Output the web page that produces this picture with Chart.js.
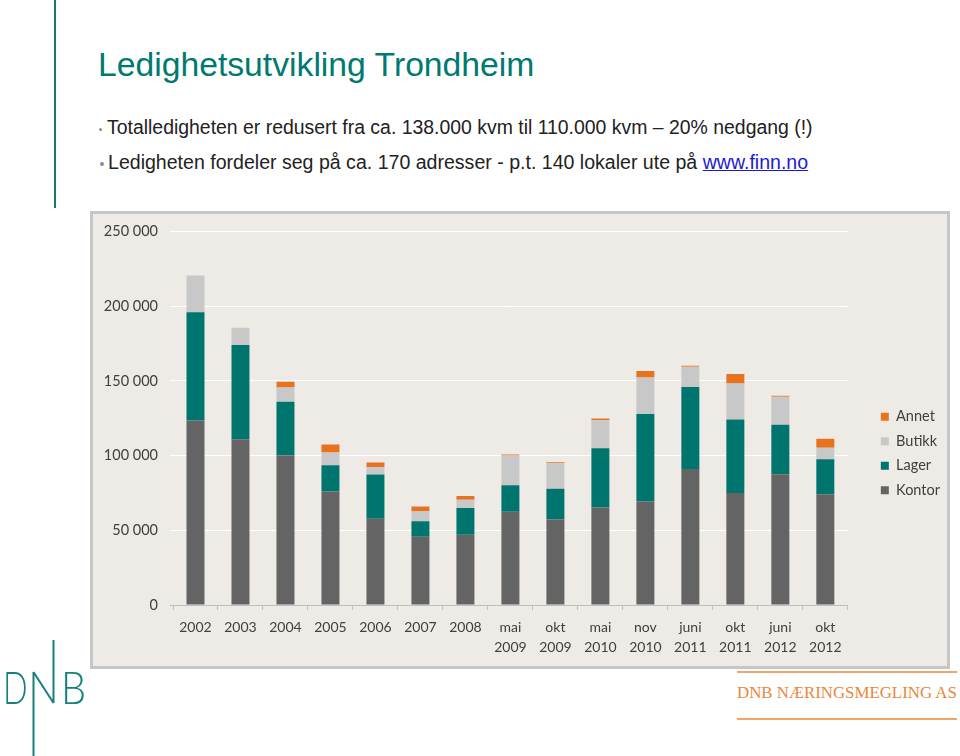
<!DOCTYPE html>
<html>
<head>
<meta charset="utf-8">
<script src="https://cdn.jsdelivr.net/npm/chart.js@4.4.1/dist/chart.umd.min.js"></script>
<style>
  html, body { margin: 0; padding: 0; background: #fff; }
  body { width: 960px; height: 756px; position: relative; overflow: hidden;
         font-family: "Liberation Sans", Arial, sans-serif; }
  .fit { position: absolute; white-space: nowrap; line-height: 1; transform-origin: 0 0; }
  .rule { position: absolute; left: 54px; top: 0; width: 2px; height: 208px; background: #137a73; }
  .title { left: 98px; top: 47px; font-size: 34px; color: #007a70; }
  .bullet { left: 107px; font-size: 19.5px; color: #222; }
  .dot { position: absolute; border-radius: 50%; background: #8c8c8c; }
  .bullet a { color: #1a1ad8; text-decoration: underline; }
  #box { position: absolute; left: 90px; top: 211px; width: 860px; height: 458px;
         box-sizing: border-box; border: 3px solid #c6c6c6; background: #eeebe7; }
  #box canvas { position: absolute; left: 0; top: 0; }
  .logo { position: absolute; left: 0; top: 640px; width: 100px; height: 116px; }
  .logo span { position: absolute; top: 25px; font-family: Lato, "Open Sans", sans-serif;
               font-weight: 300; font-size: 45px; line-height: 1; color: #17807a; transform-origin: 0 0; }
  .oline { position: absolute; left: 737px; width: 220px; height: 2px; background: #f0a56a; }
  .firm { left: 737px; top: 685px; font-family: "Liberation Serif", serif; font-size: 16px; color: #e8873a; }
</style>
</head>
<body>
<div class="rule"></div>
<div class="fit title" data-w="436">Ledighetsutvikling Trondheim</div>
<div class="dot" style="left:99px;top:128px;width:3px;height:3px"></div>
<div class="fit bullet" style="top:118px" data-w="706">Totalledigheten er redusert fra ca. 138.000 kvm til 110.000 kvm – 20% nedgang (!)</div>
<div class="dot" style="left:100px;top:162px;width:4px;height:4px"></div>
<div class="fit bullet" style="top:153px;left:108px" data-w="700">Ledigheten fordeler seg på ca. 170 adresser - p.t. 140 lokaler ute på <a>www.finn.no</a></div>

<div id="box"><canvas id="chart" width="854" height="452"></canvas></div>

<div class="logo">
  <span style="left:3px;transform:scaleX(0.72)">D</span>
  <svg width="100" height="116" style="position:absolute;left:0;top:0">
    <path d="M33.5 32 V116 M33.5 32 L53.5 63 M53.5 0 V63" stroke="#17807a" stroke-width="2" fill="none"/>
  </svg>
  <span style="left:61px;transform:scaleX(0.88)">B</span>
</div>

<div class="oline" style="top:671px"></div>
<div class="fit firm" data-w="220">DNB NÆRINGSMEGLING AS</div>
<div class="oline" style="top:718px"></div>

<script>
// squeeze the slide texts to the widths they have in the original
document.querySelectorAll('.fit[data-w]').forEach(el => {
  const s = +el.dataset.w / el.scrollWidth;
  el.style.transform = 'scaleX(' + s + ')';
});

const labels = [
  '2002', '2003', '2004', '2005', '2006', '2007', '2008',
  ['mai', '2009'], ['okt', '2009'], ['mai', '2010'], ['nov', '2010'],
  ['juni', '2011'], ['okt', '2011'], ['juni', '2012'], ['okt', '2012']
];
const kontor = [123500, 111000, 100000, 76000, 57700, 45700, 47000, 62400, 57300, 65300, 69300, 91000, 75000, 87600, 74200];
const lager  = [72500, 63000, 36000, 17500, 29600, 10300, 18000, 17800, 20500, 39600, 58600, 55000, 49200, 33000, 23400];
const butikk = [24500, 11500, 9500, 8500, 5000, 7000, 5500, 19800, 17000, 18800, 24300, 13400, 24100, 18800, 7600];
const annet  = [0, 0, 4000, 5500, 3000, 3000, 2500, 700, 700, 1100, 4400, 700, 6400, 700, 6000];
const yTicks = [0, 50000, 100000, 150000, 200000, 250000];

const COLORS = { kontor: '#646464', lager: '#00756e', butikk: '#c8c8c8', annet: '#e8731e' };
const TEXT = '#404040';

Chart.defaults.font.family = 'Lato, "Open Sans", sans-serif';
Chart.defaults.color = TEXT;

function fmt(v) {
  return String(v).replace(/\B(?=(\d{3})+(?!\d))/g, ' ');
}

function series(label, data, color) {
  return { label, data, backgroundColor: color, borderWidth: 0, barPercentage: 0.4, categoryPercentage: 1 };
}

// legend sits further right and a little lower than chart.js puts it
const legendNudge = {
  id: 'legendNudge',
  afterLayout(chart, args, opts) {
    const l = chart.legend;
    l.left += opts.x; l.right += opts.x;
    l.top += opts.y; l.bottom += opts.y;
  }
};

new Chart(document.getElementById('chart'), {
  type: 'bar',
  data: {
    labels,
    datasets: [
      series('Kontor', kontor, COLORS.kontor),
      series('Lager', lager, COLORS.lager),
      series('Butikk', butikk, COLORS.butikk),
      series('Annet', annet, COLORS.annet)
    ]
  },
  options: {
    responsive: false,
    animation: false,
    layout: { padding: { top: 15, right: 20, bottom: 0, left: 0 } },
    scales: {
      x: {
        stacked: true,
        grid: { offset: true, drawOnChartArea: false, color: '#bfbfbf', tickLength: 5 },
        border: { color: '#bfbfbf' },
        ticks: { autoSkip: false, maxRotation: 0, padding: 7, color: TEXT, font: { size: 14, lineHeight: 1.43 } },
        afterFit(scale) { scale.height = 61; }
      },
      y: {
        stacked: true,
        min: 0,
        max: 250000,
        afterBuildTicks(scale) { scale.ticks = yTicks.map(value => ({ value })); },
        grid: {
          color: ctx => (ctx.tick && ctx.tick.value === 0 ? '#bfbfbf' : '#ffffff'),
          tickLength: 3
        },
        border: { display: false },
        ticks: { padding: 12, color: TEXT, font: { size: 14.5 }, callback: v => fmt(v) },
        afterFit(scale) {
          scale.width = 80;
          scale.paddingTop = 17.5;
          scale.paddingBottom = 0;
        }
      }
    },
    plugins: {
      legend: {
        position: 'right',
        reverse: true,
        labels: { boxWidth: 8, boxHeight: 8, padding: 10, color: TEXT, font: { size: 14.5 } }
      },
      legendNudge: { x: 23, y: 6 },
      tooltip: { enabled: false }
    }
  },
  plugins: [legendNudge]
});
</script>
</body>
</html>
